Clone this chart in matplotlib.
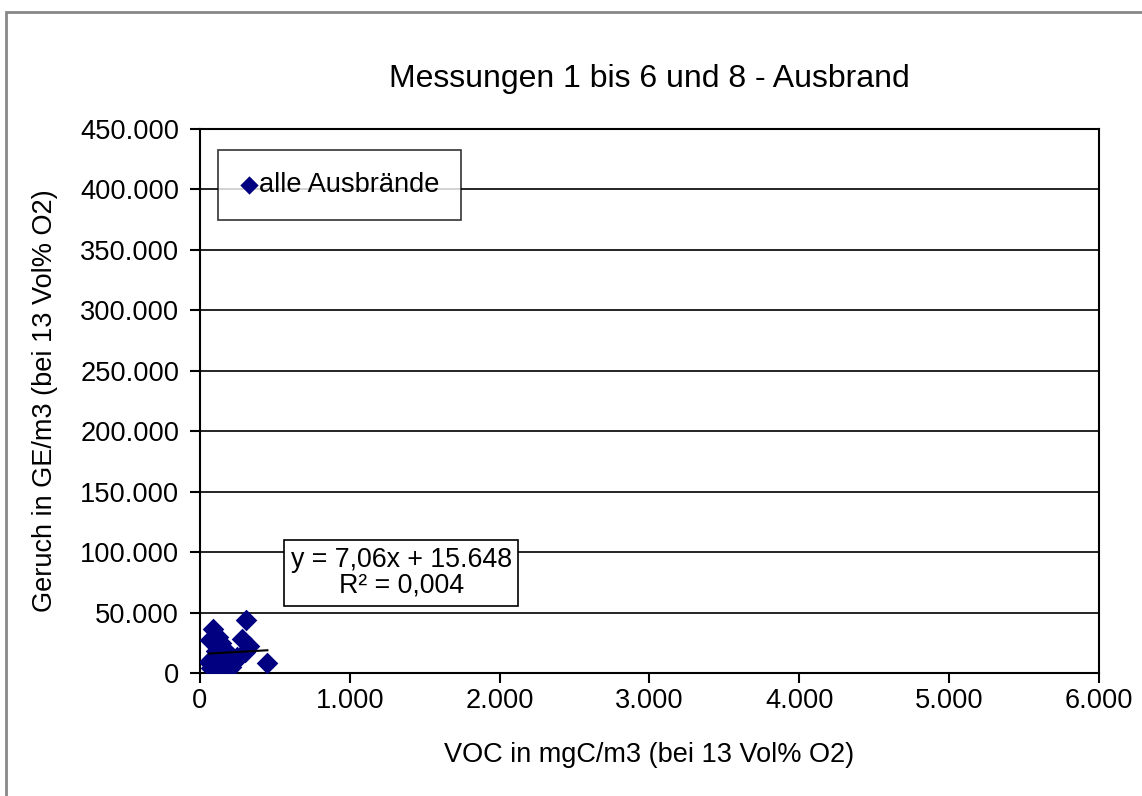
import numpy as np
import matplotlib
matplotlib.use("Agg")
import matplotlib.pyplot as plt
from matplotlib.patches import Rectangle
from matplotlib.ticker import FuncFormatter

plt.rcParams['font.family'] = ['Liberation Sans', 'DejaVu Sans']

# VOC (mgC/m3) and odour (GE/m3)
voc = [90, 70, 120, 60, 80, 100, 130, 150, 180, 210, 230, 250, 280, 310,
       330, 300, 450, 110, 200, 160, 75, 140]
geruch = [36000, 27000, 30000, 9000, 12000, 6000, 3000, 8000, 12000, 5000,
          9000, 13000, 28000, 44000, 22000, 17000, 8000, 18000, 15000, 20000,
          4000, 25000]

# trendline from the chart label
slope = 7.06
intercept = 15648

title = "Messungen 1 bis 6 und 8 - Ausbrand"
xlabel = "VOC in mgC/m3 (bei 13 Vol% O2)"
ylabel = "Geruch in GE/m3 (bei 13 Vol% O2)"
x_ticks = [0, 1000, 2000, 3000, 4000, 5000, 6000]
y_ticks = [0, 50000, 100000, 150000, 200000, 250000, 300000, 350000, 400000, 450000]

fig = plt.figure(figsize=(11.42, 7.96), dpi=100)
ax = fig.add_axes([0.1751, 0.1545, 0.9623 - 0.1751, 0.8379 - 0.1545])

# outer chart border (only top/left visible in the original)
fig.patches.append(Rectangle((6 / 1142, -0.05), 1.1, 1 - 12 / 796 + 0.05,
                             transform=fig.transFigure, fill=False,
                             edgecolor='#888888', linewidth=2))

ax.scatter(voc, geruch, marker='D', s=11 ** 2, color='#000080', zorder=3,
           linewidths=0, label='alle Ausbrände')

xs = np.array([min(voc), max(voc)])
ax.plot(xs, slope * xs + intercept, color='black', linewidth=1.5, zorder=4)

ax.set_xlim(0, 6000)
ax.set_ylim(0, 450000)
ax.set_xticks(x_ticks)
ax.set_yticks(y_ticks)

fmt = FuncFormatter(lambda v, p: "0" if v == 0 else f"{int(v):,}".replace(",", "."))
ax.xaxis.set_major_formatter(fmt)
ax.yaxis.set_major_formatter(fmt)

ax.grid(axis='y', color='black', linewidth=1.2)
ax.set_axisbelow(True)
for sp in ax.spines.values():
    sp.set_linewidth(1.5)
    sp.set_color('black')
ax.tick_params(labelsize=19.6, length=7, width=1.5, direction='out')
ax.tick_params(axis='y', pad=8)
ax.tick_params(axis='x', pad=4)

ax.set_title(title, fontsize=23, pad=30)
ax.set_xlabel(xlabel, fontsize=19.5, labelpad=20)
ax.set_ylabel(ylabel, fontsize=19.5, labelpad=16)

leg = ax.legend(loc='upper left', bbox_to_anchor=(0.02, 0.961), fontsize=19.6,
                frameon=True, fancybox=False, handletextpad=0.0,
                markerscale=0.85, borderpad=0.8, handlelength=0.7,
                borderaxespad=0)
leg.get_frame().set_edgecolor('black')
leg.get_frame().set_linewidth(1.2)

ax.text(1343, 82800, "y = 7,06x + 15.648\nR² = 0,004", fontsize=19.3,
        ha='center', va='center', linespacing=1.0,
        bbox=dict(boxstyle='square,pad=0.25', facecolor='white',
                  edgecolor='black', linewidth=1.2), zorder=5)

fig.savefig("out.png", dpi=100)
